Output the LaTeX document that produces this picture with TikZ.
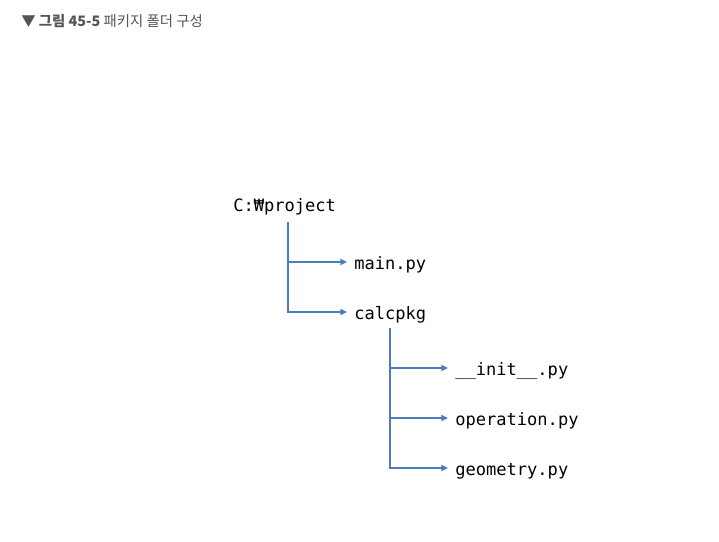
\documentclass[tikz,border=0pt]{standalone}
\usepackage{fontspec}
\setmonofont{DejaVu Sans Mono}
\newfontfamily\krfont{Noto Sans CJK KR}
\usetikzlibrary{arrows.meta}
\definecolor{treeblue}{RGB}{74, 124, 190}
\definecolor{capgray}{RGB}{85, 85, 85}

\tikzset{
  entry/.style={anchor=west, inner sep=0pt, font=\ttfamily\fontsize{12.8}{15}\selectfont,
    text height=1.2em, text depth=0.13em},
  branch/.style={treeblue, line width=1.6pt, -{Triangle[length=5pt, width=4.5pt]}, shorten >=5.25pt},
}

\begin{document}
\begin{tikzpicture}[x=0.75pt, y=-0.75pt]
  \useasboundingbox (0,0) rectangle (719,542);

  % caption
  \node[anchor=west, inner sep=0pt, text=capgray, font=\krfont\fontsize{10.8}{13}\selectfont]
    (caption) at (21,21) {▼ {\bfseries 그림 45-5} 패키지 폴더 구성};

  % first level
  \node[entry] (root) at (233,204) {C:₩project};
  \node[entry] (main) at (354,262) {main.py};
  \node[entry] (calc) at (354,312) {calcpkg};
  \coordinate (trunkA) at (288,222);
  \draw[branch] (trunkA) |- (main.west);
  \draw[branch] (trunkA) |- (calc.west);

  % second level
  \node[entry] (init) at (455,368) {\_\_init\_\_.py};
  \node[entry] (oper) at (455,418) {operation.py};
  \node[entry] (geom) at (455,468) {geometry.py};
  \coordinate (trunkB) at (390,328);
  \draw[branch] (trunkB) |- (init.west);
  \draw[branch] (trunkB) |- (oper.west);
  \draw[branch] (trunkB) |- (geom.west);
\end{tikzpicture}
\end{document}
